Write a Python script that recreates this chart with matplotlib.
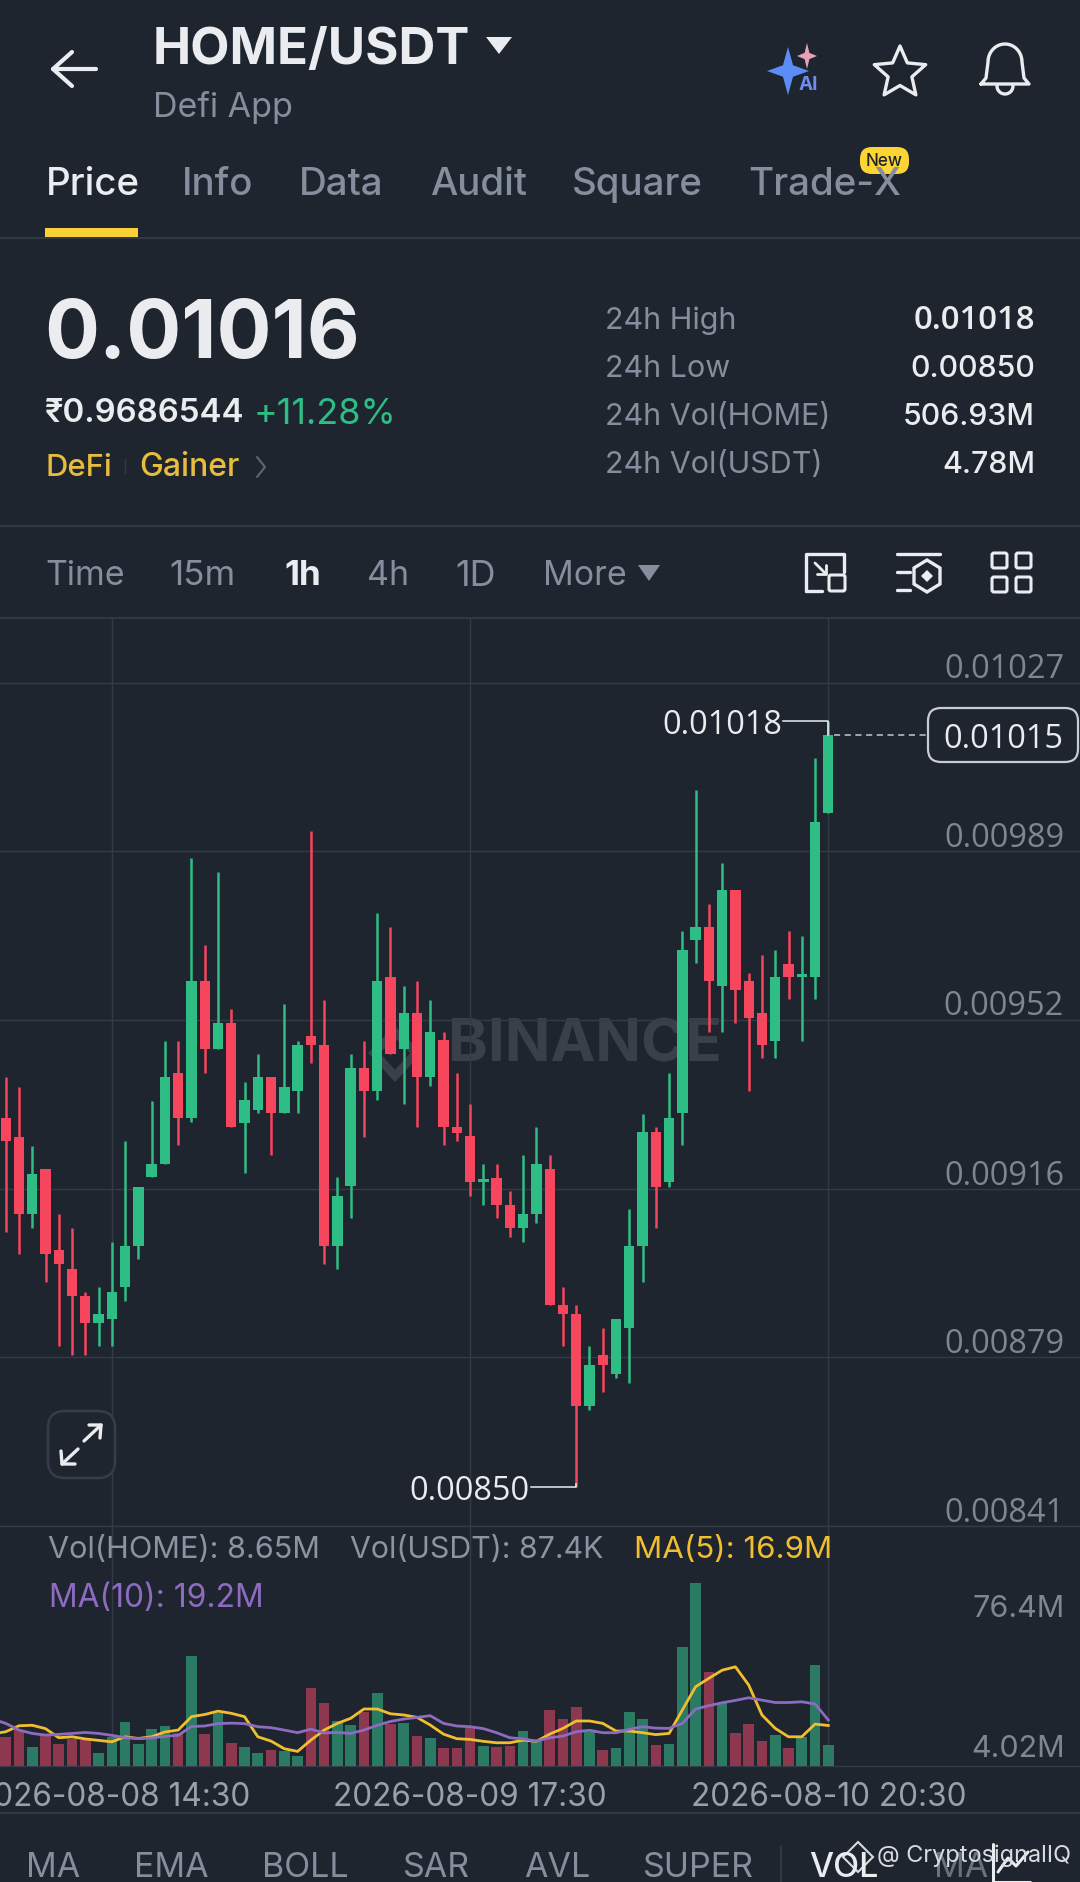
import numpy as np
import matplotlib
matplotlib.use("Agg")
import matplotlib.pyplot as plt
from matplotlib.patches import FancyBboxPatch, Polygon, Rectangle
from matplotlib.transforms import ScaledTranslation

W, H = 1080, 1882
BG = "#1E252F"
GRID = "#343B46"
GRAY = "#848E9C"
WHITE = "#EAECEF"
GREEN = "#2EBD85"
RED = "#F6465D"
VGREEN = "#2A7A64"
VRED = "#8E3850"
YELLOW = "#F0BE2E"
PURPLE = "#8C6BC0"
NUM = ["Open Sans", "DejaVu Sans"]
plt.rcParams["font.family"] = ["Inter", "DejaVu Sans"]

# hourly candles, price in millionths of USDT
OPEN = [9301, 9260, 9090, 9190, 9010, 8969, 8909, 8849, 8859, 8929,
        9019, 9171, 9200, 9401, 9301, 9603, 9453, 9511, 9291, 9320,
        9391, 9312, 9361, 9482, 9462, 9020, 9151, 9411, 9361, 9613,
        9453, 9532, 9392, 9473, 9281, 9261, 9160, 9170, 9110, 9060,
        9090, 9190, 8889, 8869, 8667, 8778, 8738, 8839, 9020, 9270,
        9160, 9312, 9694, 9723, 9593, 9804, 9603, 9532, 9472, 9642,
        9613, 9613, 9975]
CLOSE = [9251, 9090, 9179, 9001, 8979, 8909, 8849, 8869, 8918, 9019,
         9150, 9200, 9391, 9301, 9603, 9453, 9511, 9281, 9341, 9391,
         9312, 9371, 9462, 9462, 9020, 9129, 9411, 9361, 9603, 9442,
         9532, 9392, 9492, 9281, 9269, 9161, 9167, 9110, 9060, 9090,
         9200, 8889, 8869, 8667, 8758, 8758, 8859, 9019, 9270, 9150,
         9301, 9673, 9723, 9603, 9804, 9584, 9523, 9462, 9613, 9613,
         9619, 9955, 10146]
HIGH = [9391, 9371, 9240, 9190, 9090, 9059, 8918, 8929, 9029, 9250,
        9150, 9340, 9472, 9472, 9874, 9683, 9843, 9542, 9381, 9442,
        9391, 9552, 9472, 9935, 9562, 9171, 9442, 9472, 9753, 9723,
        9592, 9603, 9562, 9492, 9401, 9332, 9200, 9200, 9140, 9220,
        9281, 9220, 8929, 8889, 8799, 8838, 8859, 9100, 9310, 9281,
        9401, 9713, 10025, 9773, 9863, 9804, 9622, 9662, 9673, 9713,
        9703, 10096, 10177]
LOW = [9051, 9001, 9059, 8940, 8799, 8778, 8778, 8799, 8799, 8898,
       8990, 9171, 9200, 9241, 9292, 9401, 9453, 9281, 9180, 9312,
       9220, 9312, 9312, 9422, 8979, 8969, 9080, 9260, 9341, 9442,
       9332, 9281, 9372, 9242, 9251, 9129, 9110, 9080, 9040, 9029,
       9070, 8889, 8799, 8488, 8657, 8698, 8728, 8718, 8939, 9059,
       9150, 9241, 9644, 9492, 9492, 9511, 9361, 9433, 9433, 9563,
       9472, 9563, 9975]
# volume, millions of HOME
VOLUME = [12.2, 15.0, 8.1, 12.9, 9.2, 11.3, 10.8, 5.3, 12.2, 18.5,
          9.2, 15.3, 16.5, 13.6, 45.9, 13.5, 22.0, 9.7, 7.9, 5.3,
          6.7, 6.4, 4.0, 32.5, 26.1, 18.9, 17.1, 22.7, 30.6, 17.4,
          17.8, 12.5, 11.7, 7.4, 7.6, 15.7, 8.3, 7.9, 8.5, 14.7,
          10.8, 23.2, 19.6, 24.5, 14.0, 6.5, 7.5, 22.4, 19.7, 8.8,
          9.2, 49.8, 76.4, 39.3, 26.1, 13.9, 17.5, 10.3, 12.9, 7.5,
          12.2, 42.0, 8.65]
# the averages start one hour before the first visible candle
MA5 = [13.4, 14.3, 16.8, 17.0, 15.6, 11.8, 12.2, 11.3, 10.7, 10.1, 12.2,
       11.5, 12.2, 14.2, 15.0, 20.6, 21.5, 22.9, 22.0, 20.6, 12.2,
       10.4, 7.2, 6.1, 10.8, 15.0, 17.8, 19.9, 23.8, 23.8, 21.8,
       21.3, 20.3, 17.1, 13.3, 11.4, 11.1, 10.3, 9.7, 9.7, 10.8,
       10.3, 13.3, 15.7, 18.8, 18.8, 17.8, 14.6, 14.6, 13.9, 13.1,
       13.6, 23.4, 33.1, 36.6, 40.0, 41.4, 33.8, 21.3, 15.7, 12.2,
       12.2, 17.5, 16.9]
MA10 = [19.6, 17.8, 15.0, 13.6, 12.9, 13.2, 13.6, 14.0, 13.6, 12.8, 11.8,
        11.4, 11.7, 12.4, 12.8, 16.5, 16.7, 17.7, 17.9, 17.7, 16.4,
        16.0, 15.0, 13.9, 15.4, 13.8, 14.0, 13.6, 15.0, 17.0, 18.6,
        19.6, 20.3, 21.0, 17.8, 16.7, 16.4, 15.6, 13.9, 11.8, 11.3,
        10.4, 11.8, 12.5, 14.3, 14.9, 13.9, 13.9, 15.3, 16.4, 15.8,
        15.7, 17.8, 23.8, 25.2, 26.4, 27.4, 28.5, 27.5, 26.5, 26.5,
        26.8, 25.9, 19.2]
PRICE_TICKS = [10261, 9890, 9518, 9145, 8774, 8402]
PRICE_LABELS = ["0.01027", "0.00989", "0.00952", "0.00916", "0.00879", "0.00841"]
TIME_TICKS = [8, 35, 62]
TIME_LABELS = ["2026-08-08 14:30", "2026-08-09 17:30", "2026-08-10 20:30"]
VOL_TICKS = [76.4, 4.02]
VOL_LABELS = ["76.4M", "4.02M"]

fig = plt.figure(figsize=(W / 100, H / 100), dpi=100, facecolor=BG)


def pt(px):
    return px * 0.72


def box(left, top, right, bottom):
    return [left / W, 1 - bottom / H, (right - left) / W, (bottom - top) / H]


# layers
under = fig.add_axes([0, 0, 1, 1], zorder=0)
under.set_xlim(0, W); under.set_ylim(H, 0); under.axis("off")
ax = fig.add_axes(box(0, 618, W, 1526), zorder=2)
vx = fig.add_axes(box(0, 1526, W, 1766), zorder=2)
ov = fig.add_axes([0, 0, 1, 1], zorder=5)
ov.set_xlim(0, W); ov.set_ylim(H, 0); ov.axis("off")
for a in (ax, vx):
    a.patch.set_alpha(0)
    a.set_xlim(-0.43, 80.97)
    for s in ("top", "left", "right"):
        a.spines[s].set_visible(False)
    a.spines["bottom"].set_color(GRID)
    a.spines["bottom"].set_linewidth(1.0)
    a.set_axisbelow(True)
    a.grid(True, color=GRID, lw=1.0)

# candles
x = np.arange(len(OPEN))
o, c, hi, lo = [np.array(v) * 1e-6 for v in (OPEN, CLOSE, HIGH, LOW)]
up = c >= o
colors = np.where(up, GREEN, RED)
ax.vlines(x, lo, hi, colors=colors, lw=1.8, zorder=3)
ax.bar(x, np.maximum(np.abs(c - o), 5e-6), bottom=np.minimum(o, c), width=0.78, color=colors, zorder=4)
ax.set_ylim(8402e-6, 10404e-6)
ax.set_xticks(TIME_TICKS)
ax.set_yticks(np.array(PRICE_TICKS) * 1e-6)
ax.set_yticklabels(PRICE_LABELS)
ax.tick_params(axis="x", length=0, labelbottom=False)
ax.tick_params(axis="y", length=0, labelleft=False, labelright=True, pad=pt(-16),
               labelsize=pt(32.5), labelcolor="#7E8690", labelfontfamily="Open Sans")
for lab in ax.yaxis.get_majorticklabels():
    lab.set_ha("right")
    lab.set_va("bottom")
    lab.set_transform(lab.get_transform() + ScaledTranslation(0, -3.5 / 100, fig.dpi_scale_trans))

# high / low / last annotations
ax.plot([58.62, 62, 62], [hi[62], hi[62], c[62]], color=WHITE, lw=1.1, zorder=5)
ax.plot([39.6, 43, 43], [lo[43], lo[43], lo[43] + 6e-6], color=WHITE, lw=1.1, zorder=5)
ax.annotate("0.01018", (58.5, hi[62]), xytext=(0, pt(-4.5)), textcoords="offset points", color=WHITE,
            fontsize=pt(32.5), family=NUM, ha="right", va="center", zorder=5)
ax.annotate("0.00850", (39.5, lo[43]), xytext=(0, pt(-4.5)), textcoords="offset points", color=WHITE,
            fontsize=pt(32.5), family=NUM, ha="right", va="center", zorder=5)
ax.plot([62.45, 69.35], [c[62], c[62]], color="#C4C8CD", lw=1.1, ls=(0, (4, 3)), zorder=5)

# volume
vcolors = np.where(up, VGREEN, VRED)
vx.bar(x, VOLUME, width=0.8, color=vcolors, zorder=3)
xma = np.arange(-1, len(OPEN))
vx.plot(xma, MA5, color=YELLOW, lw=2.0, zorder=4, solid_joinstyle="round")
vx.plot(xma, MA10, color=PURPLE, lw=2.0, zorder=5, solid_joinstyle="round")
vx.set_ylim(0, 100.2)
vx.set_xticks(TIME_TICKS)
vx.set_xticklabels(TIME_LABELS)
vx.tick_params(axis="x", length=0, pad=pt(16), labelsize=pt(31.5), labelcolor="#98A0AB")
vx.set_yticks(VOL_TICKS)
vx.set_yticklabels(VOL_LABELS)
vx.yaxis.grid(False)
vx.tick_params(axis="y", length=0, labelleft=False, labelright=True, pad=pt(-15),
               labelsize=pt(30.5), labelcolor="#7E8690")
vlabs = vx.yaxis.get_majorticklabels()
for lab, va, dy in zip(vlabs, ("top", "bottom"), (-12, -7)):
    lab.set_ha("right")
    lab.set_va(va)
    lab.set_transform(lab.get_transform() + ScaledTranslation(0, dy / 100, fig.dpi_scale_trans))


def T(px, py, s, size, color=GRAY, weight="normal", ha="left", layer=ov, **kw):
    # the text box holds the descender, so its middle sits above the glyph middle
    return layer.text(px, py + size * 0.09, s, fontsize=pt(size), color=color, fontweight=weight,
                      ha=ha, va="center", **kw)


def L(xs, ys, color=WHITE, lw=2.2, layer=ov, **kw):
    layer.plot(xs, ys, color=color, lw=lw, solid_capstyle="round", solid_joinstyle="round", **kw)


def RR(left, top, right, bottom, r, ec, fc="none", lw=1.5, layer=ov):
    layer.add_patch(FancyBboxPatch((left + r, top + r), right - left - 2 * r, bottom - top - 2 * r,
                                   boxstyle=f"round,pad={r},rounding_size={r}", ec=ec, fc=fc, lw=lw))


# header
L([96, 53], [69, 69], lw=3); L([72, 53, 72], [52, 69, 86], lw=3)
T(153, 46, "HOME/USDT", 51, WHITE, "bold")
ov.add_patch(Polygon([(486, 37), (512, 37), (499, 54)], fc=WHITE, ec="none"))
T(153, 104, "Defi App", 34)
# AI icon
def spark(cx, cy, rx, ry, col, k=0.24):
    ov.add_patch(Polygon([(cx, cy - ry), (cx + rx * k, cy - ry * k), (cx + rx, cy), (cx + rx * k, cy + ry * k),
                          (cx, cy + ry), (cx - rx * k, cy + ry * k), (cx - rx, cy), (cx - rx * k, cy - ry * k)],
                         fc=col, ec="none"))
spark(788, 71, 21, 24, "#5C8DF6")
spark(807, 56, 10, 13, "#E6A0B8")
T(808, 83, "AI", 19, "#6E8DF0", "bold", ha="center")
# star
ang = np.deg2rad(np.arange(-90, 270, 36))
rad = np.where(np.arange(10) % 2 == 0, 27, 12.5)
ov.add_patch(Polygon(np.c_[900 + rad * np.cos(ang), 73 + rad * np.sin(ang)], fc="none", ec=WHITE, lw=2.4, joinstyle="round"))
# bell
th = np.linspace(np.pi, 2 * np.pi, 30)
bx = np.r_[981, 986, 988, 1005 + 17 * np.cos(th), 1022, 1024, 1029, 981]
by = np.r_[84, 78, 62, 62 + 18 * np.sin(th), 62, 78, 84, 84]
L(bx, by, lw=2.4)
th = np.linspace(0, np.pi, 20)
L(1005 + 8 * np.cos(th), 86 + 8 * np.sin(th), lw=2.4)

# tabs
for tx, s, col, w in [(46, "Price", WHITE, "medium"), (182, "Info", GRAY, "medium"), (299, "Data", GRAY, "medium"),
                      (430, "Audit", GRAY, "medium"), (572, "Square", GRAY, "medium"), (748, "Trade-X", GRAY, "medium")]:
    T(tx, 182, s, 38.5, col, w)
ov.add_patch(Rectangle((45, 228), 93, 9, fc="#F9D136", ec="none"))
ov.plot([0, W], [238, 238], color=GRID, lw=1.3)
RR(860, 147, 909, 174, 12, "none", "#FCD535", 0)
T(884.5, 160, "New", 17, "#1E2329", "medium", ha="center")

# price block
T(44, 330, "0.01016", 81.5, WHITE, "bold")
T(45, 411, "₹0.9686544", 33, WHITE, "semibold")
T(254, 411, "+11.28%", 36, GREEN)
T(45, 465, "DeFi", 31, "#E8BC3C", "medium")
ov.plot([125, 125], [459, 473], color=GRID, lw=1)
T(139, 465, "Gainer", 32, "#E8BC3C", "medium")
L([257, 265, 257], [457, 467, 477], color="#5E6670", lw=1.5)
STAT_LABELS = ["24h High", "24h Low", "24h Vol(HOME)", "24h Vol(USDT)"]
STAT_VALUES = ["0.01018", "0.00850", "506.93M", "4.78M"]
for yy, a_, b_ in zip((318, 366, 414, 462), STAT_LABELS, STAT_VALUES):
    T(605, yy, a_, 30.5)
    if b_ == "0.01018":
        T(1035, yy, b_, 33, WHITE, "semibold", ha="right", family=NUM)
    else:
        T(1035, yy, b_, 30.3, WHITE, "medium", ha="right")
ov.plot([0, W], [525.5, 525.5], color=GRID, lw=1.3)

# interval row
for tx, s, col, w, sz in [(45, "Time", GRAY, "normal", 34), (169, "15m", GRAY, "normal", 35), (284, "1h", WHITE, "bold", 35),
                          (367, "4h", GRAY, "normal", 34), (455, "1D", GRAY, "normal", 36), (543, "More", GRAY, "normal", 34)]:
    T(tx, 573, s, sz, col, w)
ov.add_patch(Polygon([(638, 565), (660, 565), (649, 581)], fc=GRAY, ec="none"))
# icon: screen
L([806, 806, 844, 844], [591, 554, 554, 572], lw=2.4)
L([806, 822], [591, 591], lw=2.4)
L([815, 826], [563, 574], lw=2)
L([826, 826, 817], [565, 574, 574], lw=2)
RR(829, 575, 845, 591, 2, WHITE, lw=2.2)
# icon: list with hexagon
L([897, 940], [554, 554], lw=2.4)
L([897, 910], [572, 572], lw=2.4)
L([897, 910], [590, 590], lw=2.4)
ov.add_patch(Polygon([(927, 560), (940, 568), (940, 584), (927, 592), (914, 584), (914, 568)], fc="none", ec=WHITE, lw=2.4))
ov.add_patch(Polygon([(927, 570), (933, 576), (927, 582), (921, 576)], fc=WHITE, ec="none"))
# icon: grid
for gx in (992, 1016):
    for gy in (553, 577):
        RR(gx, gy, gx + 15, gy + 15, 2, WHITE, lw=2.2)
ov.plot([0, W], [618, 618], color=GRID, lw=1.3)

# watermark behind the candles
T(448, 1041, "BINANCE", 60, "#3A404A", "bold", layer=under)
under.add_patch(Polygon([(395, 1032), (416, 1053), (395, 1076), (374, 1053)], fc="none", ec="#3A404A", lw=6))

# live price box
RR(928, 708, 1078, 762, 13, "#C8CCD1", BG, 1.6)
T(1063, 736.5, "0.01015", 32.5, WHITE, ha="right", family=NUM)

# volume legend
T(48, 1547, "Vol(HOME): 8.65M", 30.6, "#8B94A0")
T(350, 1547, "Vol(USDT): 87.4K", 30.3, "#8B94A0")
T(634, 1547, "MA(5): 16.9M", 31.3, YELLOW)
T(49, 1596, "MA(10): 19.2M", 31.8, PURPLE)

# expand button
RR(48, 1411, 115, 1478, 17, "#363D48", BG, 1.8)
L([84, 101], [1441, 1425], lw=2.4); L([89, 101, 100], [1425, 1425, 1438], lw=2.4)
L([78, 62], [1449, 1464], lw=2.4); L([61, 62, 75], [1451, 1464, 1464], lw=2.4)

# bottom bar
ov.plot([0, W], [1813, 1813], color=GRID, lw=1.3)
for tx, s, col, w in [(26, "MA", GRAY, "normal"), (134, "EMA", GRAY, "normal"), (262, "BOLL", GRAY, "normal"),
                      (403, "SAR", GRAY, "normal"), (524, "AVL", GRAY, "normal"), (643, "SUPER", GRAY, "normal"),
                      (809, "VOL", WHITE, "medium"), (934, "MA", "#6A727D", "normal")]:
    T(tx, 1865, s, 34, col, w, clip_on=True)
ov.plot([781, 781], [1846, 1882], color=GRID, lw=1.3)
T(877, 1854, "@ CryptosignalIQ", 23.5, "#D8DBDF")
ov.add_patch(Polygon([(858, 1842), (873, 1857), (858, 1872), (843, 1857)], fc="none", ec="#D8DBDF", lw=1.5))
L([993, 993, 1030], [1844, 1882, 1882], lw=2.2)
L([998, 1008, 1016, 1028], [1872, 1858, 1866, 1852], lw=2.2)

fig.savefig("out.png", dpi=100, facecolor=BG)
